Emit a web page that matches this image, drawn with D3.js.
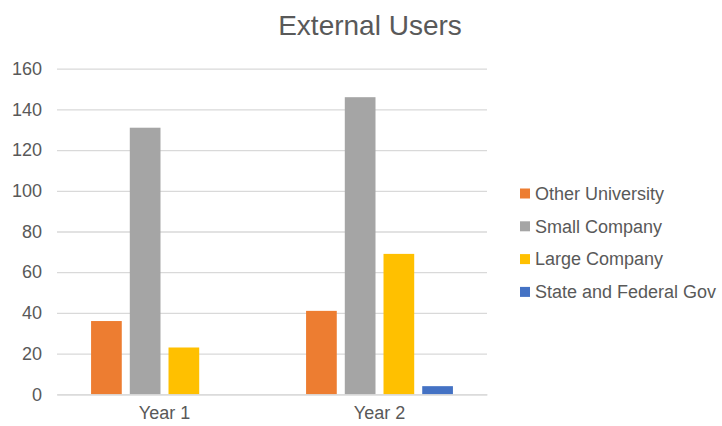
<!DOCTYPE html>
<html>
<head>
<meta charset="utf-8">
<script src="https://cdn.jsdelivr.net/npm/d3@7"></script>
<style>
  body { margin: 0; background: #fff; }
  svg { display: block; font-family: "Liberation Sans", Arial, sans-serif; }
</style>
</head>
<body>
<svg id="chart" width="722" height="426"></svg>
<script>
// Chart data
const categories = ["Year 1", "Year 2"];
const seriesNames = ["Other University", "Small Company", "Large Company", "State and Federal Gov"];
const otherUniversity = [36, 41];
const smallCompany = [131, 146];
const largeCompany = [23, 69];
const stateFederalGov = [0, 4];
const yTicks = [0, 20, 40, 60, 80, 100, 120, 140, 160];
const colors = ["#ED7D31", "#A5A5A5", "#FFC000", "#4472C4"];

const seriesValues = [otherUniversity, smallCompany, largeCompany, stateFederalGov];

const svg = d3.select("#chart");
const plot = { left: 57, right: 487, top: 68.7, bottom: 394.3 };

const x0 = d3.scaleBand().domain(categories).range([plot.left, plot.right]).padding(0);
const x1 = d3.scaleBand().domain(seriesNames).range([0, x0.bandwidth()])
  .paddingInner(0.207).paddingOuter(0.88);
const y = d3.scaleLinear().domain([0, 160]).range([plot.bottom, plot.top]);

// Title
svg.append("text")
  .attr("x", 370).attr("y", 35)
  .attr("text-anchor", "middle")
  .attr("font-size", 28)
  .attr("fill", "#595959")
  .text("External Users");

// Gridlines and value labels
const yAxis = d3.axisLeft(y).tickValues(yTicks).tickSize(-(plot.right - plot.left)).tickPadding(15);
const gy = svg.append("g").attr("transform", `translate(${plot.left},0)`).call(yAxis);
gy.select(".domain").remove();
gy.selectAll(".tick line").attr("stroke", "#D9D9D9").attr("stroke-width", 1.3);
gy.selectAll(".tick text").attr("fill", "#595959").attr("font-size", 18)
  .attr("font-family", "Liberation Sans, Arial, sans-serif");

// Bars
const groups = svg.append("g").selectAll("g")
  .data(categories)
  .join("g")
  .attr("transform", d => `translate(${x0(d)},0)`);

groups.selectAll("rect")
  .data((d, i) => seriesNames.map((s, j) => ({ series: s, value: seriesValues[j][i], color: colors[j] })))
  .join("rect")
  .attr("x", d => x1(d.series))
  .attr("width", x1.bandwidth())
  .attr("y", d => y(d.value))
  .attr("height", d => y(0) - y(d.value))
  .attr("fill", d => d.color);

// Category axis
const xAxis = d3.axisBottom(x0).tickSize(0).tickPadding(12);
const gx = svg.append("g").attr("transform", `translate(0,${plot.bottom})`).call(xAxis);
gx.select(".domain").attr("stroke", "#D9D9D9").attr("stroke-width", 1.3);
gx.selectAll(".tick text").attr("fill", "#595959").attr("font-size", 18)
  .attr("font-family", "Liberation Sans, Arial, sans-serif");

// Legend
const legend = svg.append("g").attr("transform", "translate(520,193.5)");
const item = legend.selectAll("g")
  .data(seriesNames)
  .join("g")
  .attr("transform", (d, i) => `translate(0,${i * 32.8})`);
item.append("rect")
  .attr("x", 0).attr("y", -5).attr("width", 10).attr("height", 10)
  .attr("fill", (d, i) => colors[i]);
item.append("text")
  .attr("x", 15).attr("y", 0).attr("dy", "0.35em")
  .attr("font-size", 18).attr("fill", "#595959")
  .text(d => d);
</script>
</body>
</html>
